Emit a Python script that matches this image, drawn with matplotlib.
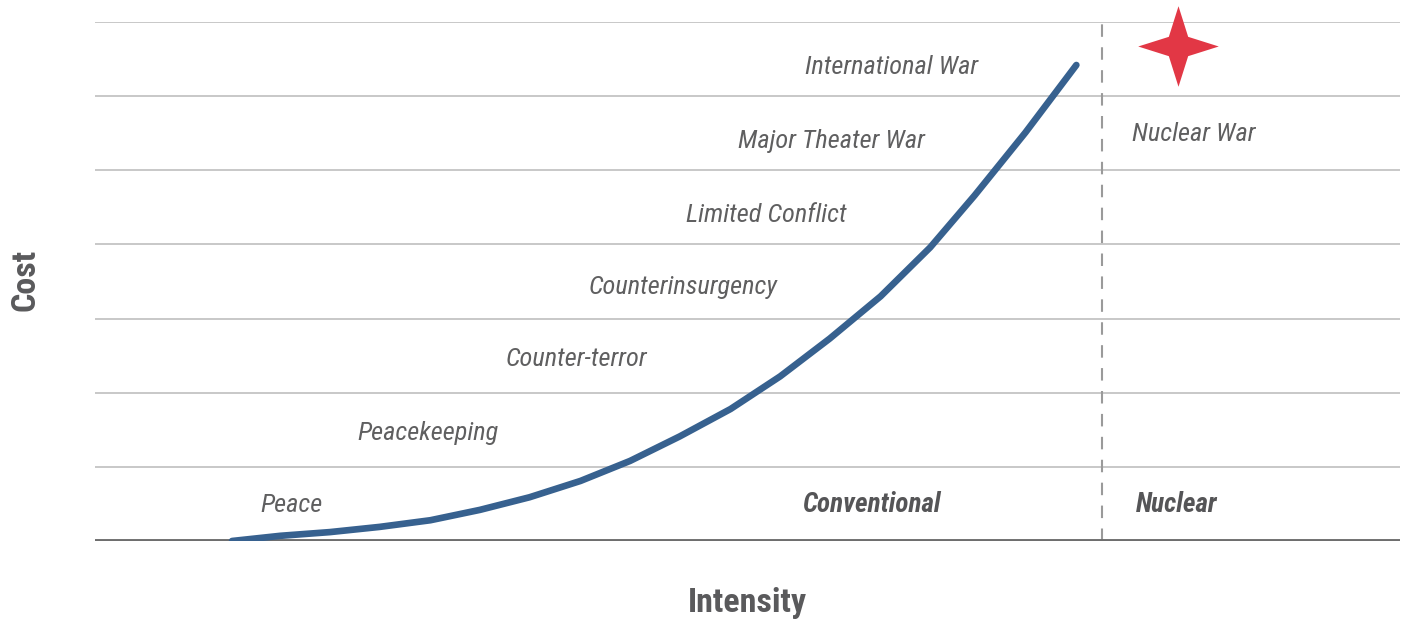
import matplotlib
matplotlib.use("Agg")
import matplotlib.pyplot as plt
from matplotlib import font_manager
from matplotlib.path import Path

# ---- data ----
intensity = [10.5, 14.2, 18.0, 21.8, 25.7, 29.5, 33.3, 37.2, 41.0, 44.8,
             48.7, 52.5, 56.3, 60.2, 64.0, 67.4, 71.3, 75.2]
cost = [0.0, 0.07, 0.12, 0.19, 0.28, 0.42, 0.59, 0.81, 1.08, 1.41,
        1.78, 2.22, 2.73, 3.30, 3.96, 4.66, 5.51, 6.42]

level_labels = ["Peace", "Peacekeeping", "Counter-terror", "Counterinsurgency",
                "Limited Conflict", "Major Theater War", "International War"]
level_x = [12.7, 20.1, 31.5, 37.8, 45.3, 49.3, 54.4]
level_y = [0.49, 1.45, 2.45, 3.43, 4.40, 5.40, 6.39]

nuclear_label = "Nuclear War"
nuclear_xy = (79.5, 5.49)
threshold_x = 77.2
star_xy = (83.0, 6.68)
region_labels = ["Conventional", "Nuclear"]
region_x = [54.2, 79.8]
region_y = 0.49

# ---- font selection ----
def pick(cands):
    for c in cands:
        try:
            font_manager.findfont(font_manager.FontProperties(family=c),
                                  fallback_to_default=False)
            return c
        except Exception:
            pass
    return "DejaVu Sans"

fam = pick(["Roboto Condensed", "Liberation Sans Narrow", "Open Sans Condensed",
            "Noto Sans Condensed", "Arial Narrow", "Liberation Sans"])
condensed = fam not in ("Liberation Sans", "DejaVu Sans")
plt.rcParams['font.family'] = [fam, 'DejaVu Sans']

lab_size = 19 if condensed else 15.5
ax_size = 24.5 if condensed else 21

TEXT = "#5f5f60"
fig = plt.figure(figsize=(14.11, 6.19), dpi=100)
ax = fig.add_axes([95/1411, 1 - 541/619, 1305/1411, 519/619])
ax.set_xlim(0, 100)
ax.set_ylim(0, 7)

for y in range(1, 8):
    ax.axhline(y, color="#c4c4c4", lw=1.3, zorder=1)
ax.axhline(0, color="#6e6e6e", lw=2.8, zorder=3)
ax.axvline(threshold_x, ymin=0, ymax=1, color="#9a9a9a", lw=1.5,
           dashes=(6, 5), zorder=2)

ax.plot(intensity, cost, color="#37618f", lw=4.8, solid_capstyle="round",
        zorder=4)

for t, x, y in zip(level_labels, level_x, level_y):
    ax.text(x, y, t, style="italic", color=TEXT, fontsize=lab_size,
            ha="left", va="center")
ax.text(nuclear_xy[0], nuclear_xy[1], nuclear_label, style="italic",
        color=TEXT, fontsize=lab_size, ha="left", va="center")
for t, x in zip(region_labels, region_x):
    ax.text(x, region_y, t, style="italic", weight="bold", color="#555557",
            fontsize=lab_size + 0.5, ha="left", va="center")

a = 0.24
star = Path([(0, 1), (a, a), (1, 0), (a, -a), (0, -1), (-a, -a), (-1, 0),
             (-a, a), (0, 1)], closed=True)
ax.plot([star_xy[0]], [star_xy[1]], marker=star, ms=58, color="#e23745",
        mec="none", zorder=5, clip_on=False)

for s in ax.spines.values():
    s.set_visible(False)
ax.set_xticks([])
ax.set_yticks([])

fig.text(747/1411, 1 - 603/619, "Intensity", ha="center", va="center",
         fontsize=ax_size, weight="bold", color="#5a5a5c")
fig.text(26/1411, 1 - 280/619, "Cost", ha="center", va="center",
         fontsize=ax_size, weight="bold", color="#5a5a5c", rotation=90)

fig.savefig("out.png", dpi=100)
